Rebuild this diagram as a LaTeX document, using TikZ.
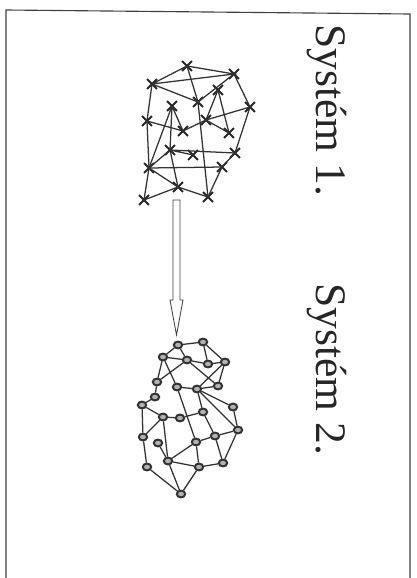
\documentclass[tikz,border=0pt]{standalone}
\usepackage{fontspec}
\setmainfont{Liberation Serif}
\usetikzlibrary{shapes.misc,shapes.geometric}

\begin{document}
\begin{tikzpicture}[x=0.25mm,y=-0.25mm,
  xnode/.style={cross out,draw=black!85,line width=1.3pt,minimum size=2mm,inner sep=0pt},
  onode/.style={ellipse,draw=black!80,fill=black!30,line width=1.4pt,minimum width=2.1mm,minimum height=1.7mm,inner sep=0pt},
  edge/.style={line width=0.9pt,draw=black!80},
  title/.style={rotate=-90,anchor=base west,inner sep=0pt,text=black!85,font=\fontsize{31}{36}\selectfont}]
\useasboundingbox (0,0) rectangle (416,578);
\draw[line width=0.8pt,black!75] (6,578) -- (6,10) -- (410,14) -- (410,578);
\node[title] (t1) at (316,24) {Systém 1.};
\node[title] (t2) at (316,283) {Systém 2.};
% system 1
\node[xnode] (a1) at (187,66) {};
\node[xnode] (a2) at (234,74) {};
\node[xnode] (a3) at (152,84) {};
\node[xnode] (a4) at (218,90) {};
\node[xnode] (a5) at (198,102) {};
\node[xnode] (a6) at (172,106) {};
\node[xnode] (a7) at (250,107) {};
\node[xnode] (a8) at (147,121) {};
\node[xnode] (a9) at (206,120) {};
\node[xnode] (a10) at (183,131) {};
\node[xnode] (a11) at (229,133) {};
\node[xnode] (a12) at (170,150) {};
\node[xnode] (a13) at (193,155) {};
\node[xnode] (a14) at (235,153) {};
\node[xnode] (a15) at (149,168) {};
\node[xnode] (a16) at (222,167) {};
\node[xnode] (a17) at (178,187) {};
\node[xnode] (a18) at (144,200) {};
\node[xnode] (a19) at (208,197) {};
\draw[edge] (a3.center) -- (a1.center) -- (a2.center) -- (a3.center);
\draw[edge] (a1.center) -- (a5.center) -- (a2.center) -- (a7.center);
\draw[edge] (a3.center) -- (a5.center) -- (a19.center);
\draw[edge] (a4.center) -- (a9.center) (a4.center) -- (a11.center);
\draw[edge] (a7.center) -- (a9.center) (a7.center) -- (a14.center);
\draw[edge] (a3.center) -- (a8.center) -- (a15.center) -- (a18.center);
\draw[edge] (a8.center) -- (a10.center) -- (a9.center) -- (a11.center);
\draw[edge] (a6.center) -- (a10.center) (a6.center) -- (a15.center) (a6.center) -- (a12.center);
\draw[edge] (a12.center) -- (a13.center) (a12.center) -- (a14.center) (a12.center) -- (a17.center);
\draw[edge] (a15.center) -- (a12.center) (a15.center) -- (a17.center) (a18.center) -- (a17.center) -- (a19.center);
\draw[edge] (a15.center) -- (a16.center) -- (a19.center) (a14.center) -- (a16.center);
% arrow
\coordinate (top) at (176.5,200);
\coordinate (tip) at (176.5,335);
\draw[line width=0.6pt,black!75] (tip) -- ++(6.5,-35) -- ++(-3,0) -- ++(0,-100) -- ++(-7,0) -- ++(0,100) -- ++(-3,0) -- cycle;
% system 2
\node[onode] (b1) at (178,345) {};
\node[onode] (b2) at (203,342) {};
\node[onode] (b3) at (163,357) {};
\node[onode] (b4) at (187,360) {};
\node[onode] (b5) at (208,364) {};
\node[onode] (b6) at (225,362) {};
\node[onode] (b7) at (157,382) {};
\node[onode] (b8) at (177,387) {};
\node[onode] (b9) at (197,389) {};
\node[onode] (b10) at (218,386) {};
\node[onode] (b11) at (155,397) {};
\node[onode] (b12) at (142,405) {};
\node[onode] (b13) at (233,407) {};
\node[onode] (b14) at (203,412) {};
\node[onode] (b15) at (163,417) {};
\node[onode] (b16) at (180,418) {};
\node[onode] (b17) at (143,437) {};
\node[onode] (b18) at (158,443) {};
\node[onode] (b19) at (215,436) {};
\node[onode] (b20) at (238,430) {};
\node[onode] (b21) at (196,442) {};
\node[onode] (b22) at (168,461) {};
\node[onode] (b23) at (147,467) {};
\node[onode] (b24) at (199,467) {};
\node[onode] (b25) at (223,463) {};
\node[onode] (b26) at (181,494) {};
\draw[edge] (b3) -- (b1) -- (b2) -- (b6) -- (b5) -- (b4) -- (b3);
\draw[edge] (b1) -- (b4) (b2) -- (b5);
\draw[edge] (b3) -- (b7) -- (b11) -- (b12) (b3) -- (b8) (b4) -- (b7);
\draw[edge] (b4) -- (b10) (b6) -- (b9) (b6) -- (b10) (b8) -- (b9) -- (b10);
\draw[edge] (b9) -- (b14) (b9) -- (b13) (b9) -- (b20) (b13) -- (b20);
\draw[edge] (b12) -- (b15) -- (b16) -- (b14) -- (b19) -- (b20);
\draw[edge] (b12) -- (b17) -- (b15) -- (b22) (b8) -- (b21);
\draw[edge] (b17) -- (b23) -- (b26) -- (b22) (b24) -- (b26);
\draw[edge] (b18) -- (b22) -- (b21) -- (b19) (b22) -- (b24) -- (b21);
\draw[edge] (b19) -- (b25) -- (b20) (b24) -- (b25);
\end{tikzpicture}
\end{document}
